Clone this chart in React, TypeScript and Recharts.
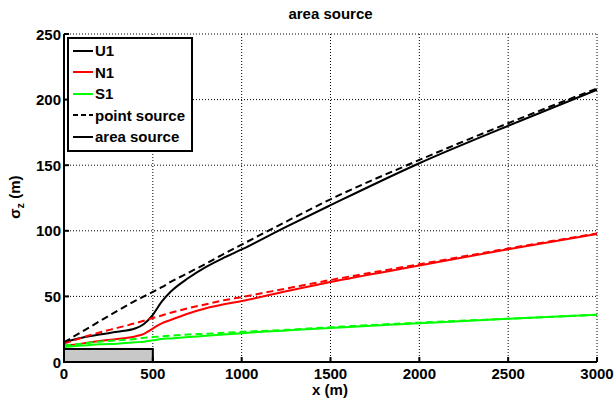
import { LineChart, Line, XAxis, YAxis, CartesianGrid, ReferenceArea } from "recharts";

// downwind distance (m)
const xs = [0, 100, 200, 300, 400, 450, 500, 550, 600, 700, 800, 900, 1000, 1250, 1500, 2000, 2500, 3000];

// sigma_z (m)
const u1Point = [15, 23, 31, 39, 46.5, 50, 53.5, 57, 61, 68, 75, 82.5, 89.5, 107, 124, 154, 182, 208.5];
const u1Area = [15, 18.5, 21, 23, 25.5, 29, 36, 46, 53.5, 64, 72.5, 79.5, 85.8, 103, 119.5, 151.5, 180, 207.5];
const n1Point = [14, 18.5, 22.5, 26, 29.5, 31.5, 33.5, 35.5, 37.5, 41, 44, 47, 49.5, 56, 62.5, 74.5, 86.5, 98];
const n1Area = [12.5, 14, 16, 17.5, 19.5, 21.5, 25.5, 29.5, 32, 37, 41, 44, 46.5, 54, 61, 73.5, 86, 97.5];
const s1Point = [12.5, 14, 15.5, 16.5, 17.5, 18.5, 19, 19.5, 20, 21, 21.5, 22.3, 23, 24.5, 26.5, 30, 33, 36];
const s1Area = [11.5, 12.5, 13.5, 14, 15, 15.5, 16.5, 17.5, 18, 19, 20, 21, 22, 24, 26, 29.5, 33, 36];

const xTicks = [0, 500, 1000, 1500, 2000, 2500, 3000];
const yTicks = [0, 50, 100, 150, 200, 250];

const legendItems = [
    { label: "U1", color: "#000000", dash: "" },
    { label: "N1", color: "#ff0000", dash: "" },
    { label: "S1", color: "#00ff00", dash: "" },
    { label: "point source", color: "#000000", dash: "5 3" },
    { label: "area source", color: "#000000", dash: "" },
];

const data = xs.map((x, i) => ({
    x,
    u1Point: u1Point[i],
    u1Area: u1Area[i],
    n1Point: n1Point[i],
    n1Area: n1Area[i],
    s1Point: s1Point[i],
    s1Area: s1Area[i],
}));

const FONT = "'Liberation Sans', Arial, sans-serif";

const XTick = ({ x, y, payload }: any) => (
    <g>
        <line x1={x} y1={y} x2={x} y2={y - 5} stroke="#000" strokeWidth={2} />
        <text x={x} y={y + 16.5} textAnchor="middle" fontSize={15} fontWeight="bold" fontFamily={FONT} fill="#000">
            {payload.value}
        </text>
    </g>
);

const YTick = ({ x, y, payload }: any) => (
    <g>
        <line x1={x} y1={y} x2={x + 5} y2={y} stroke="#000" strokeWidth={2} />
        <text x={x - 3} y={y + 5.5} textAnchor="end" fontSize={15} fontWeight="bold" fontFamily={FONT} fill="#000">
            {payload.value}
        </text>
    </g>
);

const LegendBox = () => (
    <div
        style={{
            position: "absolute",
            left: 67,
            top: 37,
            border: "2px solid #000",
            background: "#fff",
            width: 122,
            padding: "1px 0 2px 0",
            fontFamily: FONT,
            fontWeight: "bold",
            fontSize: 15,
        }}
    >
        {legendItems.map((it) => (
            <div key={it.label} style={{ display: "flex", alignItems: "center", height: 21.5 }}>
                <svg width={26} height={10}>
                    <line x1={4} y1={5} x2={24} y2={5} stroke={it.color} strokeWidth={2} strokeDasharray={it.dash || undefined} />
                </svg>
                <span>{it.label}</span>
            </div>
        ))}
    </div>
);

export default function App() {
    return (
        <div style={{ position: "absolute", left: 0, top: 0, width: 614, height: 400, background: "#fff" }}>
            <div
                style={{
                    position: "absolute", left: 0, width: 661, top: 5, textAlign: "center",
                    fontFamily: FONT, fontWeight: "bold", fontSize: 15,
                }}
            >
                area source
            </div>
            <LineChart width={614} height={400} data={data} margin={{ top: 34, right: 17, left: 0, bottom: 0 }}>
                <CartesianGrid stroke="#000" strokeDasharray="1 2" strokeWidth={1} />
                <XAxis
                    dataKey="x"
                    type="number"
                    domain={[0, 3000]}
                    ticks={xTicks}
                    height={38}
                    tickSize={0}
                    tickMargin={0}
                    tick={<XTick />}
                    axisLine={{ stroke: "#000", strokeWidth: 2 }}
                    tickLine={false}
                    label={{
                        content: () => (
                            <text x={330} y={395} textAnchor="middle" fontSize={15} fontWeight="bold" fontFamily={FONT} fill="#000">
                                x (m)
                            </text>
                        ),
                    }}
                />
                <YAxis
                    type="number"
                    domain={[0, 250]}
                    ticks={yTicks}
                    width={64}
                    tickSize={0}
                    tickMargin={0}
                    tick={<YTick />}
                    axisLine={{ stroke: "#000", strokeWidth: 2 }}
                    tickLine={false}
                    label={{
                        content: () => (
                            <text
                                x={20}
                                y={197}
                                transform="rotate(-90, 20, 197)"
                                textAnchor="middle"
                                fontSize={15}
                                fontWeight="bold"
                                fontFamily={FONT}
                                fill="#000"
                            >
                                σ<tspan fontSize={11} dy={4}>z</tspan>
                                <tspan dy={-4}> (m)</tspan>
                            </text>
                        ),
                    }}
                />
                <ReferenceArea x1={0} x2={500} y1={0} y2={10} fill="#c8c8c8" fillOpacity={1} stroke="#000" strokeWidth={2} ifOverflow="visible" />
                <Line type="monotone" dataKey="u1Point" stroke="#000000" strokeWidth={2} strokeDasharray="7 4" dot={false} isAnimationActive={false} />
                <Line type="monotone" dataKey="u1Area" stroke="#000000" strokeWidth={2} dot={false} isAnimationActive={false} />
                <Line type="monotone" dataKey="n1Point" stroke="#ff0000" strokeWidth={2} strokeDasharray="7 4" dot={false} isAnimationActive={false} />
                <Line type="monotone" dataKey="n1Area" stroke="#ff0000" strokeWidth={2} dot={false} isAnimationActive={false} />
                <Line type="monotone" dataKey="s1Point" stroke="#00ff00" strokeWidth={2} strokeDasharray="7 4" dot={false} isAnimationActive={false} />
                <Line type="monotone" dataKey="s1Area" stroke="#00ff00" strokeWidth={2} dot={false} isAnimationActive={false} />
            </LineChart>
            <LegendBox />
        </div>
    );
}
